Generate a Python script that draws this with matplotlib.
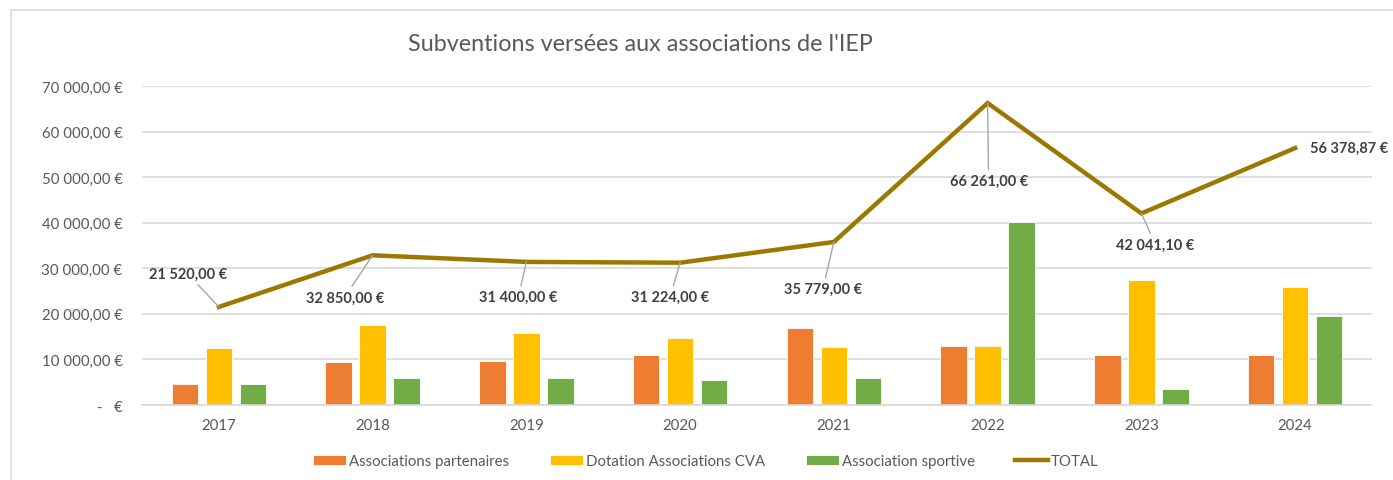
import numpy as np
import matplotlib.pyplot as plt
from matplotlib.patches import Rectangle

plt.rcParams['font.family'] = ['Lato', 'DejaVu Sans']

# Données
annees = ['2017', '2018', '2019', '2020', '2021', '2022', '2023', '2024']
partenaires = [4500, 9400, 9600, 11000, 17000, 13000, 11000, 11000]
dotation_cva = [12500, 17450, 15800, 14700, 12800, 13000, 27500, 25800]
sportive = [4520, 6000, 6000, 5524, 5979, 40261, 3541, 19578.87]
total = [21520.00, 32850.00, 31400.00, 31224.00, 35779.00, 66261.00, 42041.10, 56378.87]

# Décalage des étiquettes du total (pixels)
decalages = [(-31, 33), (-28, -42), (-8, -35), (-10, -34), (-11, -47), (1, -78), (14, -31), (54, 0)]


def euro(v):
    if v == 0:
        return '-   €'
    s = f"{v:,.2f}".replace(',', ' ').replace('.', ',')
    return s + ' €'


fig = plt.figure(figsize=(13.93, 4.81), dpi=100)
ax = fig.add_axes([142 / 1393, 1 - 406 / 481, 1230 / 1393, 319 / 481])

# Cadre du graphique
fig.patches.append(Rectangle((11 / 1393, -0.05), 1.2, 1 - 11 / 481 + 0.05, transform=fig.transFigure,
                             fill=False, edgecolor='#D9D9D9', linewidth=1.2))

x = np.arange(len(annees))
largeur = 0.172
pas = 0.221
b1 = ax.bar(x - pas, partenaires, largeur, color='#ED7D31', edgecolor='white', linewidth=0.6,
            label='Associations partenaires', zorder=2)
b2 = ax.bar(x, dotation_cva, largeur, color='#FFC000', edgecolor='white', linewidth=0.6,
            label='Dotation Associations CVA', zorder=2)
b3 = ax.bar(x + pas, sportive, largeur, color='#70AD47', edgecolor='white', linewidth=0.6,
            label='Association sportive', zorder=2)
ligne, = ax.plot(x, total, color='#9C7800', linewidth=3.2, solid_joinstyle='miter',
                 label='TOTAL', zorder=3)

# Étiquettes du total
for xi, v, (dx, dy) in zip(x, total, decalages):
    fleche = None
    if abs(dy) > 5:
        fleche = dict(arrowstyle='-', color='#A6A6A6', lw=1, shrinkA=1, shrinkB=0)
    ax.annotate(euro(v), (xi, v), xytext=(dx, dy), textcoords='offset pixels',
                ha='center', va='center', fontsize=10.5, fontweight='bold', color='#404040',
                arrowprops=fleche, zorder=4)

ax.set_xlim(-0.5, len(annees) - 0.5)
ax.set_ylim(0, 70000)
ax.set_yticks(np.arange(0, 70001, 10000))
ax.set_yticklabels([euro(v) for v in np.arange(0, 70001, 10000)])
ax.set_xticks(x)
ax.set_xticklabels(annees)
ax.tick_params(axis='y', length=0, pad=14, labelsize=10.8, labelcolor='#595959')
ax.tick_params(axis='x', length=0, pad=9, labelsize=10.8, labelcolor='#595959')
ax.grid(axis='y', color='#D9D9D9', linewidth=1.2, zorder=0)
ax.set_axisbelow(True)
for cote in ['left', 'right', 'top']:
    ax.spines[cote].set_visible(False)
ax.spines['bottom'].set_color('#D9D9D9')
ax.spines['bottom'].set_linewidth(1.2)

fig.text(640 / 1393, 1 - 45 / 481, "Subventions versées aux associations de l'IEP",
         ha='center', va='center', fontsize=16.8, color='#595959')

fig.legend([b1, b2, b3, ligne], [b1.get_label(), b2.get_label(), b3.get_label(), 'TOTAL'],
           loc='center', bbox_to_anchor=(706 / 1393, 1 - 462 / 481), ncol=4, frameon=False,
           fontsize=10.8, labelcolor='#595959', handlelength=2.2, handleheight=0.7,
           handletextpad=0.2, columnspacing=2.7)

plt.savefig('out.png', dpi=100)
